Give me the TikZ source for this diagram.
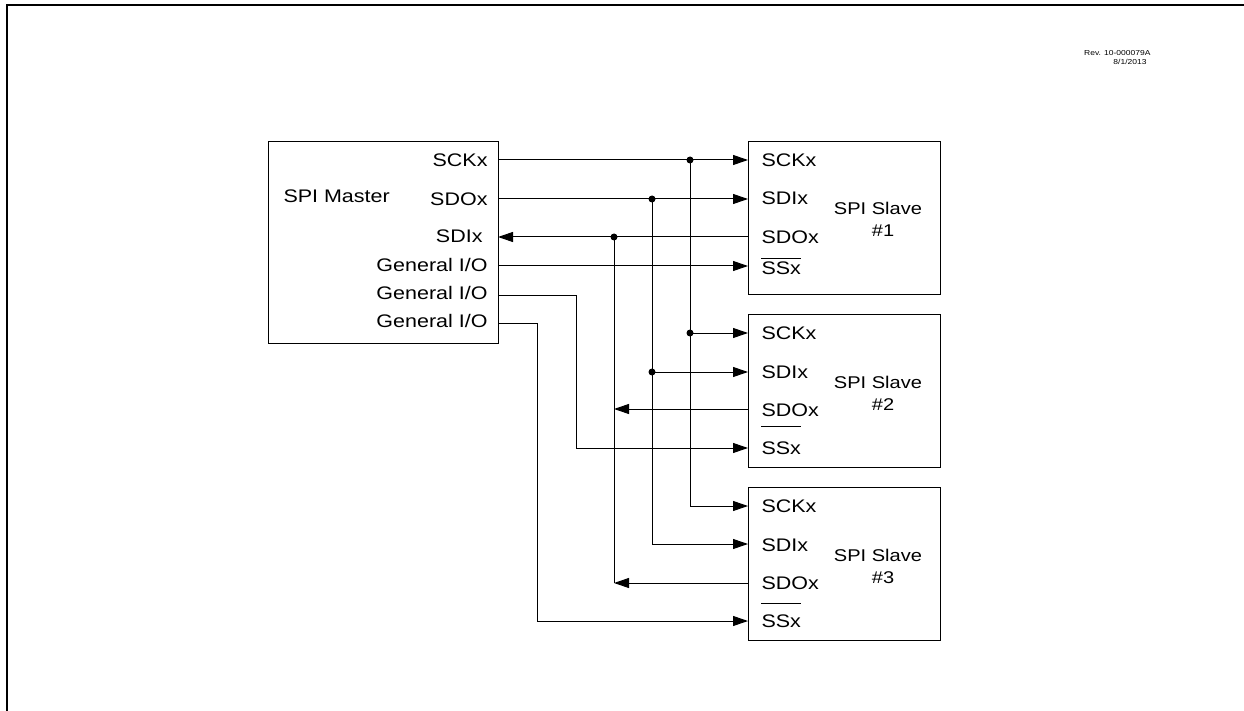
\documentclass[tikz,border=0pt]{standalone}
\usepackage{fontspec}
\setmainfont{Liberation Sans}[FakeStretch=1.18]
\usetikzlibrary{arrows.meta}
\begin{document}
\begin{tikzpicture}[x=1pt,y=-1pt, line width=1pt,
  box/.style={draw, line width=1pt, anchor=north west, inner sep=0},
  pin/.style={font=\fontsize{18.2}{20}\selectfont, inner sep=0},
  mpin/.style={pin, anchor=base east},
  spin/.style={pin, anchor=base west},
  ttl/.style={font=\fontsize{17}{19}\selectfont, inner sep=0, anchor=base},
  rev/.style={font=\fontsize{7.2}{8}\selectfont, inner sep=0, anchor=base east},
  arr/.style={-{Triangle[length=15pt,width=10pt]}},
  dot/.style={circle, fill, inner sep=0, minimum size=7pt},
  frame/.style={line width=2pt},
  ovl/.style={line width=0.9pt}]
\useasboundingbox (0,0) rectangle (1244,711);

% frame
\coordinate (fTR) at (1244,5);
\coordinate (fTL) at (7,5);
\coordinate (fBL) at (7,711);
\draw[frame] (fTR) -- (fTL) -- (fBL);

% revision text
\node[rev] (rev1) at (1151,55.6) {Rev. 10-000079A};
\node[rev] (rev2) at (1147,64.6) {8/1/2013};

% boxes
\node[box, minimum width=230pt, minimum height=202pt] (m) at (268,141) {};
\node[box, minimum width=192pt, minimum height=153pt] (s1) at (748,141) {};
\node[box, minimum width=192pt, minimum height=153pt] (s2) at (748,314) {};
\node[box, minimum width=192pt, minimum height=153pt] (s3) at (748,487) {};

% master labels
\node[pin, anchor=base west] (mtitle) at (283,202.7) {SPI Master};
\node[mpin] (lmSCK) at (488,166.7) {SCKx};
\node[mpin] (lmSDO) at (488,206) {SDOx};
\node[mpin] (lmSDI) at (483,243) {SDIx};
\node[mpin] (lmG1) at (488,271.7) {General I/O};
\node[mpin] (lmG2) at (488,299.5) {General I/O};
\node[mpin] (lmG3) at (488,327.7) {General I/O};

% slave labels
\foreach \s/\t/\n in {1/0/1, 2/173/2, 3/346/3} {
  \node[spin] (lsSCK\s) at (761,166.7+\t) {SCKx};
  \node[spin] (lsSDI\s) at (761,205+\t) {SDIx};
  \node[spin] (lsSDO\s) at (761,243.3+\t) {SDOx};
  \node[ttl] (ttlA\s) at (878,215+\t) {SPI Slave};
  \node[ttl] (ttlB\s) at (883,237+\t) {\#\n};
}
\node[spin] (lsSS1) at (761,274.5) {SSx};
\node[spin] (lsSS2) at (761,454.5) {SSx};
\node[spin] (lsSS3) at (761,627.5) {SSx};
\draw[ovl] ([yshift=3.2pt]lsSS1.north west) -- ([yshift=3.2pt]lsSS1.north east);
\draw[ovl] ([yshift=15pt]lsSS2.north west) -- ([yshift=15pt]lsSS2.north east);
\draw[ovl] ([yshift=11pt]lsSS3.north west) -- ([yshift=11pt]lsSS3.north east);

% pin coordinates
\coordinate (mSCK) at (498,160);
\coordinate (mSDO) at (498,199);
\coordinate (mSDI) at (498,237);
\coordinate (mG1) at (498,266);
\coordinate (mG2) at (498,295);
\coordinate (mG3) at (498,323);

\coordinate (s1SCK) at (748,160);
\coordinate (s1SDI) at (748,199);
\coordinate (s1SDO) at (748,237);
\coordinate (s1SS) at (748,266);
\coordinate (s2SCK) at (748,333);
\coordinate (s2SDI) at (748,372);
\coordinate (s2SDO) at (748,409);
\coordinate (s2SS) at (748,448);
\coordinate (s3SCK) at (748,506);
\coordinate (s3SDI) at (748,544);
\coordinate (s3SDO) at (748,583);
\coordinate (s3SS) at (748,621);

% junctions
\node[dot] (jC1) at (690,160) {};
\node[dot] (jC2) at (690,333) {};
\node[dot] (jD1) at (652,199) {};
\node[dot] (jD2) at (652,372) {};
\node[dot] (jI1) at (614,237) {};
\coordinate (tI2) at (614,409);
\coordinate (tI3) at (614,583);
\coordinate (kG2) at (576,295);
\coordinate (kG3) at (537,323);

% SCK
\draw[arr] (mSCK) -- (s1SCK);
\draw (jC1.center) -- (jC2.center);
\draw[arr] (jC2.center) -- (s2SCK);
\draw[arr] (jC2.center) |- (s3SCK);
% SDO -> SDI
\draw[arr] (mSDO) -- (s1SDI);
\draw (jD1.center) -- (jD2.center);
\draw[arr] (jD2.center) -- (s2SDI);
\draw[arr] (jD2.center) |- (s3SDI);
% SDI <- SDO
\draw[arr] (s1SDO) -- (mSDI);
\draw (jI1.center) -- (tI3);
\draw[arr] (s2SDO) -- (tI2);
\draw[arr] (s3SDO) -- (tI3);
% slave selects
\draw[arr] (mG1) -- (s1SS);
\draw[arr] (mG2) -- (kG2) |- (s2SS);
\draw[arr] (mG3) -- (kG3) |- (s3SS);
\end{tikzpicture}
\end{document}
